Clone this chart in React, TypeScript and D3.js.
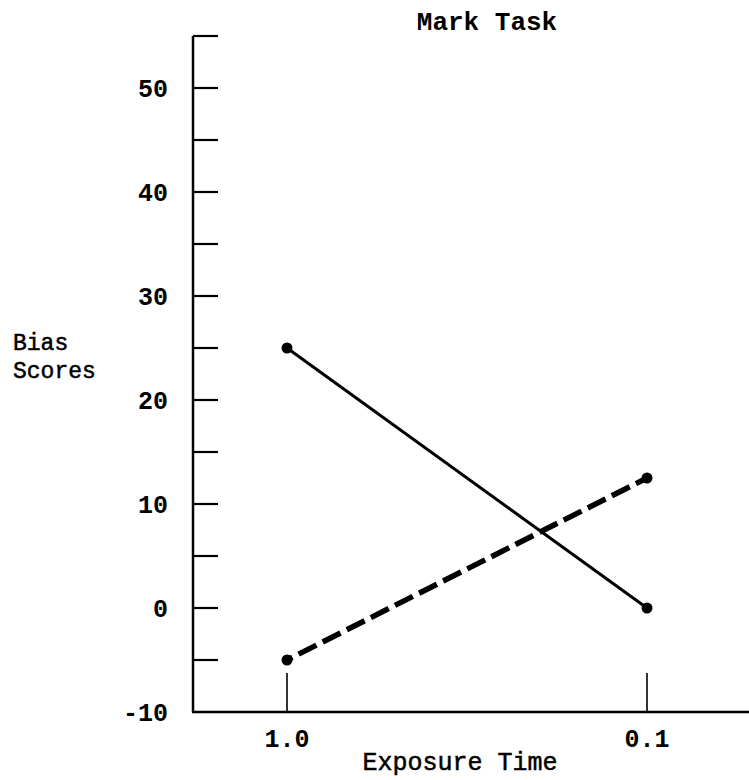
import React, { useEffect, useRef } from "react";
import * as d3 from "d3";

// values
const exposureTimes = ["1.0", "0.1"];
const solidSeries = [25, 0];
const dashedSeries = [-5, 12.5];
const yTickLabels = [-10, 0, 10, 20, 30, 40, 50];
const yMinorTicks = [-5, 5, 15, 25, 35, 45, 55];

const FONT = "'Liberation Mono', 'Courier New', monospace";

export default function App() {
  const svgRef = useRef<SVGSVGElement>(null);

  useEffect(() => {
    const svg = d3.select(svgRef.current);
    svg.selectAll("*").remove();

    const width = 749;
    const height = 780;
    const axisX = 193;
    const axisY = 712;

    svg.attr("width", width).attr("height", height);

    const x = d3.scalePoint<string>().domain(exposureTimes).range([287, 647]);
    const y = d3.scaleLinear().domain([-10, 55]).range([axisY, 36]);

    // title
    svg.append("text")
      .attr("x", 487)
      .attr("y", 30)
      .attr("text-anchor", "middle")
      .style("font-family", FONT)
      .style("font-size", "26px")
      .style("font-weight", "bold")
      .text("Mark Task");

    // y axis line
    svg.append("line")
      .attr("x1", axisX).attr("x2", axisX)
      .attr("y1", y(55)).attr("y2", axisY)
      .attr("stroke", "black").attr("stroke-width", 2.5);

    // x axis line
    svg.append("line")
      .attr("x1", axisX - 1).attr("x2", width)
      .attr("y1", axisY).attr("y2", axisY)
      .attr("stroke", "black").attr("stroke-width", 2.5);

    // y ticks point inward
    const ticks = [...yTickLabels.filter(v => v > -10), ...yMinorTicks];
    svg.append("g")
      .selectAll("line")
      .data(ticks)
      .join("line")
      .attr("x1", axisX).attr("x2", axisX + 25)
      .attr("y1", d => y(d)).attr("y2", d => y(d))
      .attr("stroke", "black").attr("stroke-width", 2.2);

    svg.append("g")
      .selectAll("text")
      .data(yTickLabels)
      .join("text")
      .attr("x", 168)
      .attr("y", d => y(d))
      .attr("dy", "0.35em")
      .attr("text-anchor", "end")
      .style("font-family", FONT)
      .style("font-size", "25px")
      .style("font-weight", "bold")
      .text(d => d);

    // category ticks
    svg.append("g")
      .selectAll("line")
      .data(exposureTimes)
      .join("line")
      .attr("x1", d => x(d)!).attr("x2", d => x(d)!)
      .attr("y1", 673).attr("y2", axisY)
      .attr("stroke", "black").attr("stroke-width", 1.6);

    svg.append("g")
      .selectAll("text")
      .data(exposureTimes)
      .join("text")
      .attr("x", d => x(d)!)
      .attr("y", 747)
      .attr("text-anchor", "middle")
      .style("font-family", FONT)
      .style("font-size", "25px")
      .style("font-weight", "bold")
      .text(d => d);

    // axis titles
    svg.append("text")
      .attr("x", 460)
      .attr("y", 770)
      .attr("text-anchor", "middle")
      .style("font-family", FONT)
      .style("font-size", "25px")
      .attr("stroke", "black").attr("stroke-width", 0.5)
      .text("Exposure Time");

    const yTitle = svg.append("text")
      .style("font-family", FONT)
      .style("font-size", "23px")
      .attr("stroke", "black").attr("stroke-width", 0.5);
    yTitle.append("tspan").attr("x", 13).attr("y", 350).text("Bias");
    yTitle.append("tspan").attr("x", 13).attr("y", 378).text("Scores");

    const line = d3.line<number>()
      .x((d, i) => x(exposureTimes[i])!)
      .y(d => y(d));

    // solid series
    svg.append("path")
      .datum(solidSeries)
      .attr("fill", "none")
      .attr("stroke", "black")
      .attr("stroke-width", 3)
      .attr("d", line);

    // dashed series: short piece at the start, then long dashes
    svg.append("path")
      .datum(dashedSeries)
      .attr("fill", "none")
      .attr("stroke", "black")
      .attr("stroke-width", 5.5)
      .attr("stroke-dasharray", "20,7")
      .attr("stroke-dashoffset", 14)
      .attr("d", line);

    // end points
    [solidSeries, dashedSeries].forEach(series => {
      svg.append("g")
        .selectAll("circle")
        .data(series)
        .join("circle")
        .attr("cx", (d, i) => x(exposureTimes[i])!)
        .attr("cy", d => y(d))
        .attr("r", 5.5)
        .attr("fill", "black");
    });
  }, []);

  return (
    <div>
      <svg ref={svgRef} style={{ position: "absolute", left: 0, top: 0, background: "white" }}></svg>
    </div>
  );
}
